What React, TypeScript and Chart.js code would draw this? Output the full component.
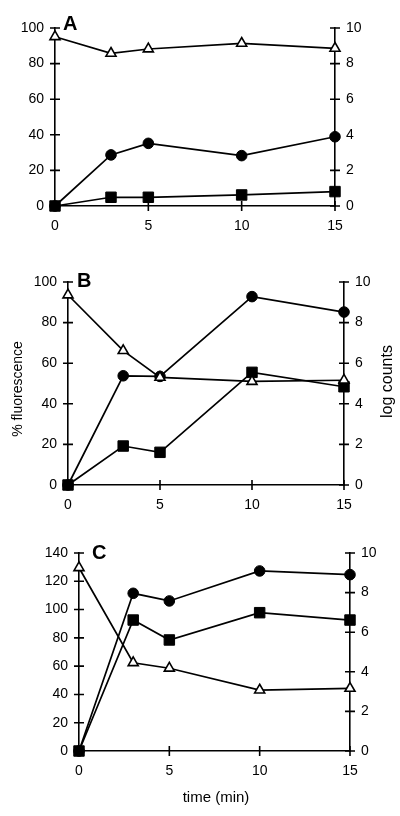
import React, { useEffect, useRef } from "react";
import { Chart, registerables } from "chart.js";
Chart.register(...registerables);

const FONT = "'Liberation Sans', Arial, Helvetica, sans-serif";

// ---- data ----
const TIME_MIN = [0, 3, 5, 10, 15];
const X_TICKS = [0, 5, 10, 15];
const LOG_TICKS = [0, 2, 4, 6, 8, 10];
const PCT_TICKS_AB = [0, 20, 40, 60, 80, 100];
const PCT_TICKS_C = [0, 20, 40, 60, 80, 100, 120, 140];

const A_TRIANGLE = [95.1, 85.8, 88.2, 91.4, 88.6];
const A_CIRCLE = [0, 28.7, 35.2, 28.3, 38.9];
const A_SQUARE = [0, 4.9, 4.9, 6.2, 8.1];

const B_TRIANGLE = [93.6, 66.2, 53, 51, 51.6];
const B_CIRCLE = [0, 53.8, 53.5, 92.8, 85.2];
const B_SQUARE = [0, 19.2, 16.1, 55.5, 48.4];

const C_TRIANGLE = [129.6, 62.4, 58.5, 43.1, 44.3];
const C_CIRCLE = [0, 111.5, 106.1, 127.3, 124.7];
const C_SQUARE = [0, 92.6, 78.5, 97.8, 92.6];

const PANEL_LETTERS = ["A", "B", "C"];
const Y_LEFT_TITLE = "% fluorescence";
const Y_RIGHT_TITLE = "log counts";
const X_TITLE = "time (min)";

// ---- layout ----
type TextItem = { text: string; x: number; y: number; rot: number; size: number };
type Panel = {
  letter: string;
  top: number;
  height: number;
  areaTop: number;
  areaBottom: number;
  left: number;
  right: number;
  pctMax: number;
  pctTicks: number[];
  tri: number[];
  circ: number[];
  sq: number[];
  letterX: number;
  letterY: number;
  texts: TextItem[];
};

const PANELS: Panel[] = [
  {
    letter: PANEL_LETTERS[0], top: 0, height: 245, areaTop: 28, areaBottom: 206, left: 55, right: 335,
    pctMax: 100, pctTicks: PCT_TICKS_AB, tri: A_TRIANGLE, circ: A_CIRCLE, sq: A_SQUARE,
    letterX: 63, letterY: 30, texts: [],
  },
  {
    letter: PANEL_LETTERS[1], top: 245, height: 275, areaTop: 37, areaBottom: 240, left: 68, right: 344,
    pctMax: 100, pctTicks: PCT_TICKS_AB, tri: B_TRIANGLE, circ: B_CIRCLE, sq: B_SQUARE,
    letterX: 77, letterY: 42,
    texts: [
      { text: Y_LEFT_TITLE, x: 18, y: 144, rot: -Math.PI / 2, size: 14 },
      { text: Y_RIGHT_TITLE, x: 388, y: 136.5, rot: -Math.PI / 2, size: 16 },
    ],
  },
  {
    letter: PANEL_LETTERS[2], top: 520, height: 296, areaTop: 33, areaBottom: 231, left: 79, right: 350,
    pctMax: 140, pctTicks: PCT_TICKS_C, tri: C_TRIANGLE, circ: C_CIRCLE, sq: C_SQUARE,
    letterX: 92, letterY: 39,
    texts: [{ text: X_TITLE, x: 216, y: 278, rot: 0, size: 15 }],
  },
];

const crossTicks = {
  id: "crossTicks",
  beforeDatasetsDraw(chart: any) {
    const { ctx, chartArea, scales } = chart;
    ctx.save();
    ctx.strokeStyle = "#000";
    ctx.lineWidth = 1.6;
    ctx.beginPath();
    for (const t of scales.x.ticks) {
      const px = scales.x.getPixelForValue(t.value);
      ctx.moveTo(px, chartArea.bottom - 5);
      ctx.lineTo(px, chartArea.bottom + 5);
    }
    for (const t of scales.y.ticks) {
      const py = scales.y.getPixelForValue(t.value);
      ctx.moveTo(chartArea.left - 5, py);
      ctx.lineTo(chartArea.left + 5, py);
    }
    for (const t of scales.y2.ticks) {
      const py = scales.y2.getPixelForValue(t.value);
      ctx.moveTo(chartArea.right - 5, py);
      ctx.lineTo(chartArea.right + 5, py);
    }
    ctx.stroke();
    ctx.restore();
  },
};

const textPlugin = (p: Panel) => ({
  id: "panelText",
  afterDraw(chart: any) {
    const ctx = chart.ctx;
    ctx.save();
    ctx.fillStyle = "#000";
    ctx.font = `bold 20px ${FONT}`;
    ctx.textAlign = "left";
    ctx.textBaseline = "alphabetic";
    ctx.fillText(p.letter, p.letterX, p.letterY);
    for (const t of p.texts) {
      ctx.save();
      ctx.translate(t.x, t.y);
      ctx.rotate(t.rot);
      ctx.font = `${t.size}px ${FONT}`;
      ctx.textAlign = "center";
      ctx.textBaseline = "middle";
      ctx.fillText(t.text, 0, 0);
      ctx.restore();
    }
    ctx.restore();
  },
});

function axisCommon() {
  return {
    grid: { display: true, drawOnChartArea: false, drawTicks: false },
    border: { display: true, color: "#000", width: 1.6 },
  };
}

function makeChart(canvas: HTMLCanvasElement, p: Panel) {
  const pts = (vals: number[]) => TIME_MIN.map((t, i) => ({ x: t, y: vals[i] }));
  const common = {
    borderColor: "#000",
    borderWidth: 1.7,
    pointBorderColor: "#000",
    clip: false as any,
    tension: 0,
    xAxisID: "x",
    yAxisID: "y",
  };
  const tickFont = { family: FONT, size: 14 };
  return new Chart(canvas, {
    type: "line",
    data: {
      datasets: [
        { ...common, label: "triangle", data: pts(p.tri), pointStyle: "triangle", pointRadius: 5.8, pointBackgroundColor: "#fff", pointBorderWidth: 1.6 },
        { ...common, label: "square", data: pts(p.sq), pointStyle: "rect", pointRadius: 7.4, pointBackgroundColor: "#000", pointBorderWidth: 1 },
        { ...common, label: "circle", data: pts(p.circ), pointStyle: "circle", pointRadius: 5.3, pointBackgroundColor: "#000", pointBorderWidth: 1 },
      ],
    } as any,
    options: {
      responsive: false,
      animation: false,
      devicePixelRatio: 1,
      events: [],
      layout: { padding: { top: p.areaTop, left: 0, right: 0, bottom: 0 } },
      plugins: { legend: { display: false }, tooltip: { enabled: false } },
      scales: {
        x: {
          type: "linear",
          position: "bottom",
          min: 0,
          max: 15,
          ...axisCommon(),
          afterBuildTicks: (s: any) => { s.ticks = X_TICKS.map((v) => ({ value: v })); },
          afterFit: (s: any) => { s.height = p.height - p.areaBottom; },
          ticks: { color: "#000", font: tickFont, padding: 12, maxRotation: 0, autoSkip: false },
        },
        y: {
          type: "linear",
          position: "left",
          min: 0,
          max: p.pctMax,
          ...axisCommon(),
          afterBuildTicks: (s: any) => { s.ticks = p.pctTicks.map((v) => ({ value: v })); },
          afterFit: (s: any) => { s.width = p.left; },
          ticks: { color: "#000", font: tickFont, padding: 11, autoSkip: false },
        },
        y2: {
          type: "linear",
          position: "right",
          min: 0,
          max: 10,
          ...axisCommon(),
          afterBuildTicks: (s: any) => { s.ticks = LOG_TICKS.map((v) => ({ value: v })); },
          afterFit: (s: any) => { s.width = 400 - p.right; },
          ticks: { color: "#000", font: tickFont, padding: 11, autoSkip: false },
        },
      },
    } as any,
    plugins: [crossTicks, textPlugin(p)],
  });
}

export default function App() {
  const r0 = useRef<HTMLCanvasElement>(null);
  const r1 = useRef<HTMLCanvasElement>(null);
  const r2 = useRef<HTMLCanvasElement>(null);
  const refs = [r0, r1, r2];
  useEffect(() => {
    const charts = PANELS.map((p, i) => makeChart(refs[i].current as HTMLCanvasElement, p));
    return () => charts.forEach((c) => c.destroy());
  }, []);
  return (
    <div style={{ position: "absolute", left: 0, top: 0, width: 400, height: 816, background: "#fff" }}>
      {PANELS.map((p, i) => (
        <canvas
          key={p.letter}
          ref={refs[i]}
          width={400}
          height={p.height}
          style={{ position: "absolute", left: 0, top: p.top, width: 400, height: p.height }}
        />
      ))}
    </div>
  );
}
